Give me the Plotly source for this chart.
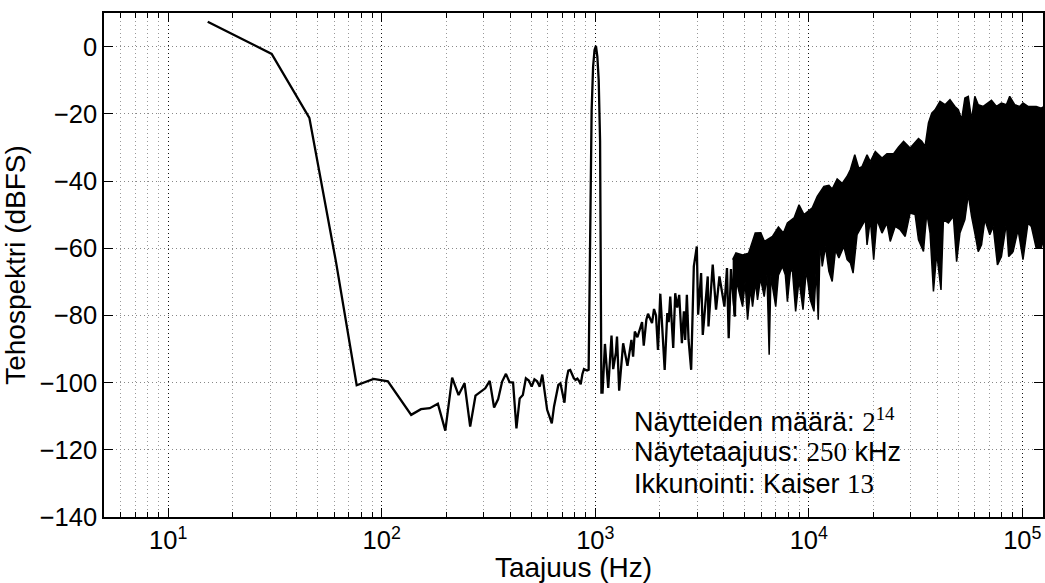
import plotly.graph_objects as go

# spectrum (Hz, dBFS)
# low bins up to the 1 kHz tone
low_freq = [15.3, 30.5, 45.8, 61.0, 76.3, 91.6, 106.8, 122.1, 137.3, 152.6, 167.8, 183.1,
            198.4, 213.6, 228.9, 244.1, 259.4, 274.7, 289.9, 305.2, 320.4, 335.7, 350.9,
            366.2, 381.5, 396.7, 412.0, 427.2, 442.5, 457.8, 473.0, 488.3, 503.5, 518.8,
            534.1, 549.3, 564.6, 579.8, 595.1, 610.4, 625.6, 640.9, 656.1, 671.4, 686.6,
            701.9, 717.2, 732.4, 747.7, 762.9, 778.2, 793.5, 808.7, 824.0, 839.2, 854.5,
            869.8, 885.0, 900.3, 915.5, 930.8]
low_db = [7.4, -2.2, -21.2, -64, -100.8, -98.9, -99.6, -104.9, -109.6, -107.9, -107.6, -106.3,
          -114.3, -98.5, -103.7, -100.2, -113.1, -103.9, -102.7, -101.7, -99.5, -107.4, -104.9,
          -99.7, -97.4, -99.9, -100, -113.6, -104.7, -103.7, -98.7, -99.4, -101.2, -99,
          -99.6, -101.2, -97.6, -102.2, -108.1, -110.1, -112.1, -107.1, -103.7, -100.7, -100.2,
          -103.2, -106, -99.2, -96.4, -96.2, -97.7, -98.7, -99.2, -98.8, -99.5, -100.5,
          -97.5, -96, -96.2, -96.4, -96.2]

# main lobe of the 1 kHz tone
lobe_freq = [946.0, 961.3, 976.6, 991.8, 1007.1, 1022.3, 1037.6, 1052.9, 1068.1]
lobe_db = [-50, -19, -6, -1, 0.2, -3, -10, -28, -103]

# noise floor 1 kHz ... 4.5 kHz
mid_freq = [1081.5, 1109.7, 1149.8, 1191.2, 1213.1, 1249.0, 1263.8, 1293.6, 1350.5, 1414.5,
            1476.5, 1503.6, 1531.6, 1574.9, 1655.9, 1686.4, 1734.4, 1766.0, 1810.3, 1843.7,
            1884, 1924.9, 1965.9, 2016, 2113.4, 2173.5, 2206.3, 2244.2, 2317.4, 2368.1,
            2419.4, 2471.7, 2544.5, 2599.6, 2636.4, 2684.8, 2734.1, 2812, 2894.2, 2989,
            3031.3, 3130.6, 3187, 3303.2, 3363, 3389.6, 3485.3, 3548, 3677.6, 3814.7,
            4024.8, 4138.5, 4214.4, 4319.5, 4509.5, 4558.6]
mid_db = [-103, -88.5, -101.6, -86, -96, -91, -86.3, -102.4, -88.3, -95,
          -87.3, -92.3, -84.8, -86.5, -82, -89, -81.3, -79.5, -80.9, -82.3,
          -78.1, -80, -90.3, -73.6, -96.2, -79.3, -82, -74.4, -89.7, -73.4,
          -77.7, -73.9, -88.3, -78.8, -87.3, -73.9, -87.3, -96.2, -65.4, -59.5,
          -79.8, -67.4, -85.8, -73.9, -68.4, -83.3, -72, -64.9, -78.3, -68.4,
          -77.4, -65.9, -86.8, -66.2, -80.3, -63.2]

# dense part above ~4.4 kHz: upper and lower edge of the black band
top_freq = [4399, 4558, 4898, 5223, 5612, 5960, 6201, 6757, 7206, 7604, 7938, 8529, 9000,
            9497, 10382, 10954, 11770, 12420, 12870, 13580, 14330, 15120, 15666, 16419,
            17140, 17760, 18740, 19417, 20484, 22020, 23230, 24961, 26336, 27792, 29829,
            32640, 33820, 35041, 36347, 37660, 39020, 41164, 43444, 45837, 48355, 50156,
            51960, 53836, 55839, 57850, 59938, 62163, 65605, 69221, 71720, 75670, 79840,
            84250, 87291, 92099, 97186, 100750, 106321, 116200, 122600, 125000]
top_db = [-63.4, -61.4, -62, -61.5, -55.5, -55.4, -58, -56.5, -53.7, -55.5, -52.5, -51, -47.1,
          -50, -48, -44.6, -41.6, -41.3, -42.4, -39.4, -40.7, -38.6, -36.6, -32.2,
          -36.2, -35.7, -32.2, -34.2, -31.2, -33.2, -31.9, -31.9, -29.9, -28.2, -30.2,
          -27.4, -28.2, -29.7, -22.7, -19.8, -18.8, -16.3, -17.3, -15.8, -17.8, -18.8,
          -21.8, -15.3, -14.8, -21.7, -14.8, -17.3, -17.8, -16.8, -16, -17.8, -16.8,
          -17.3, -14.8, -17.3, -17.8, -16.8, -17.8, -17.8, -18.3, -18]
bot_freq = [4399, 4480, 4592, 4727, 4898, 5031, 5167, 5336, 5452, 5630, 5752, 5940, 6181,
            6370, 6522, 6649, 6757, 7001, 7206, 7523, 7769, 7938, 8198, 8375, 8677, 9000,
            9395, 9734, 10162, 10573, 10838, 11072, 11312, 11557, 11974, 12420, 12870,
            13335, 13830, 14594, 15120, 15666, 16122, 16830, 17438, 18401, 18740, 19417,
            20134, 20860, 22020, 23230, 24069, 25395, 26794, 28275, 29829, 31477, 32640,
            34442, 35690, 36978, 38353, 39730, 41606, 42702, 45054, 47529, 49250, 51028,
            53836, 55839, 57850, 59938, 62163, 64420, 66746, 70424, 73040, 76487, 79840,
            84250, 86356, 90526, 95526, 100750, 106321, 110200, 116200, 122600, 125000]
bot_db = [-72, -80.3, -70, -73.4, -77.4, -70, -81.3, -72, -77.4, -70, -75.4, -69, -74.4,
          -68, -91.7, -68, -71.4, -77.4, -68, -65.4, -68, -75.9, -67, -66.4, -78.8, -69.4,
          -78.3, -66.4, -75.4, -78.8, -66, -81.3, -57.5, -65.4, -59.5, -66.9, -69.9,
          -60.5, -62.9, -59.5, -63.4, -64.4, -67.4, -56, -54.5, -51.5, -59, -51.5,
          -63.4, -51.5, -55.5, -52.5, -58, -53.5, -54.5, -56.5, -49.5, -50, -57.5,
          -61, -49.5, -55.5, -72.9, -61.5, -72.4, -51.5, -52.5, -50.5, -64, -55.5,
          -51.5, -44, -50.5, -55.5, -61, -59, -51.5, -56, -53.5, -65, -62.5,
          -52.5, -62.5, -61, -54.5, -63.4, -52.5, -53.5, -60, -60, -58]

decades = [10, 100, 1000, 10000, 100000]
decade_text = ["10<sup>1</sup>", "10<sup>2</sup>", "10<sup>3</sup>", "10<sup>4</sup>", "10<sup>5</sup>"]
minor_vals = [m * d for d in [1, 10, 100, 1000, 10000, 100000] for m in range(2, 10)]
minor_vals = [v for v in minor_vals if 5 <= v <= 125000]
y_ticks = [-140, -120, -100, -80, -60, -40, -20, 0]

font = "Liberation Sans, Arial, Helvetica, sans-serif"
serif = "Liberation Serif, Times New Roman, serif"


def math(s):
    return "<span style='font-family:" + serif + "'>" + s + "</span>"


info_lines = ["Näytteiden määrä: " + math("2<sup>14</sup>"),
              "Näytetaajuus: " + math("250") + " kHz",
              "Ikkunointi: Kaiser " + math("13")]
info_y = [-111.1, -120.8, -130.3]

fig = go.Figure()

fig.add_trace(go.Scatter(
    x=low_freq + lobe_freq + mid_freq,
    y=low_db + lobe_db + mid_db,
    mode='lines',
    line=dict(color='black', width=2.3),
    showlegend=False
))

fig.add_trace(go.Scatter(
    x=top_freq + bot_freq[::-1],
    y=top_db + bot_db[::-1],
    mode='lines',
    fill='toself',
    fillcolor='black',
    line=dict(color='black', width=1.5),
    showlegend=False
))

for txt, yy in zip(info_lines, info_y):
    fig.add_annotation(
        xref='x', yref='y', x=3.1725, y=yy,
        xanchor='left', yanchor='middle', align='left', showarrow=False,
        text=txt, font=dict(family=font, size=27, color='black')
    )

fig.update_layout(
    width=1045, height=583,
    margin=dict(l=104, r=0, t=13, b=66),
    paper_bgcolor='white', plot_bgcolor='white',
    font=dict(family=font, size=23, color='black'),
    xaxis=dict(
        type='log', range=[0.69897, 5.09691],
        tickmode='array', tickvals=decades, ticktext=decade_text,
        tickfont=dict(size=25.5),
        ticks='inside', ticklen=9, tickcolor='black', tickwidth=1,
        showline=True, linecolor='black', linewidth=1.5, mirror='allticks',
        showgrid=True, gridcolor='#111', griddash='1px,3px', gridwidth=1,
        zeroline=False,
        minor=dict(tickmode='array', tickvals=minor_vals, ticks='inside', ticklen=5,
                   tickcolor='black', showgrid=True, gridcolor='#999', griddash='1px,3px'),
        title=dict(text='Taajuus (Hz)', standoff=5),
    ),
    yaxis=dict(
        range=[-140, 10],
        tickmode='array', tickvals=y_ticks,
        tickfont=dict(size=25.5),
        ticks='inside', ticklen=9, tickcolor='black', tickwidth=1,
        showline=True, linecolor='black', linewidth=1.5, mirror='allticks',
        showgrid=True, gridcolor='#888', griddash='1px,3px', gridwidth=1,
        zeroline=False,
        title=dict(text='Tehospektri (dBFS)', standoff=10),
    ),
)

# page body has a default 8px margin, drop it so the figure sits at the corner
fig.write_html("out.html", config={'displayModeBar': False},
               post_script="document.body.style.margin='0';")
